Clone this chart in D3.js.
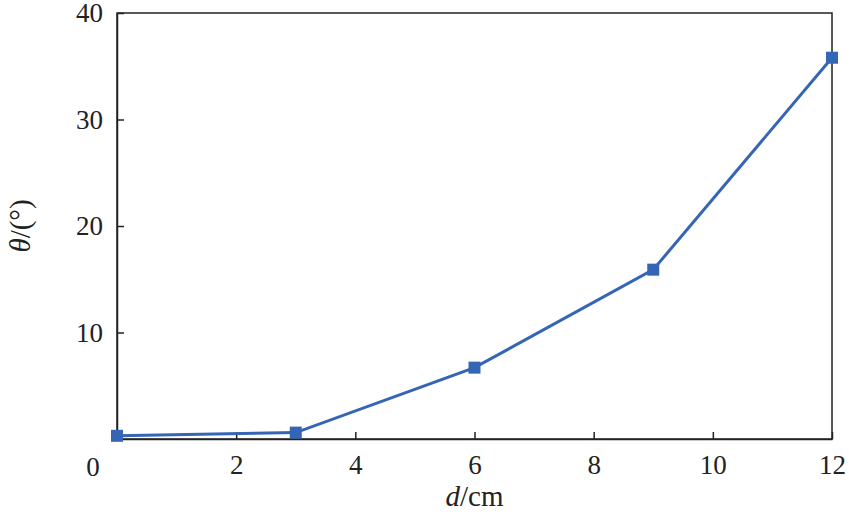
<!DOCTYPE html>
<html><head><meta charset="utf-8">
<script src="https://cdn.jsdelivr.net/npm/d3@7"></script>
<style>body{margin:0;background:#fff}svg text{font-family:"Times New Roman","Liberation Serif",Times,serif !important}</style>
</head><body><div id="vis"></div>
<script>
// data
const dVals = [0, 3, 6, 9, 12];
const thetaVals = [0.3, 0.6, 6.7, 15.9, 35.8];
const xTicks = [2, 4, 6, 8, 10, 12];
const yTicks = [10, 20, 30, 40];

const width = 849, height = 526;
const margin = { top: 13, right: 17, bottom: 87, left: 117 };

const svg = d3.select('#vis').append('svg')
    .attr('width', width).attr('height', height);

const x = d3.scaleLinear().domain([0, 12]).range([margin.left, width - margin.right]);
const y = d3.scaleLinear().domain([0, 40]).range([height - margin.bottom, margin.top]);

// frame
svg.append('rect')
    .attr('x', x(0)).attr('y', y(40))
    .attr('width', x(12) - x(0)).attr('height', y(0) - y(40))
    .attr('fill', 'none').attr('stroke', '#222').attr('stroke-width', 1.5);

const xAxis = svg.append('g')
    .attr('transform', `translate(0,${y(0)})`)
    .call(d3.axisBottom(x).tickValues(xTicks).tickSizeInner(-7).tickSizeOuter(0).tickPadding(16));
const yAxis = svg.append('g')
    .attr('transform', `translate(${x(0)},0)`)
    .call(d3.axisLeft(y).tickValues(yTicks).tickSizeInner(-7).tickSizeOuter(0).tickPadding(14));

[xAxis, yAxis].forEach(g => {
    g.attr('font-family', null);
    g.select('.domain').attr('stroke', '#222').attr('stroke-width', 1.5);
    g.selectAll('.tick line').attr('stroke', '#222').attr('stroke-width', 1.5);
    g.selectAll('.tick text').attr('font-size', 27).attr('fill', '#222');
});

// shared origin label
svg.append('text').attr('x', x(0) - 24).attr('y', y(0) + 37)
    .attr('text-anchor', 'middle').attr('font-size', 27).attr('fill', '#222').text('0');

// axis titles
svg.append('text').attr('x', (x(0) + x(12)) / 2).attr('y', 506)
    .attr('text-anchor', 'middle').attr('font-size', 29).attr('fill', '#222')
    .html('<tspan font-style="italic">d</tspan>/cm');
svg.append('text').attr('transform', `translate(30,${(y(0) + y(40)) / 2}) rotate(-90)`)
    .attr('text-anchor', 'middle').attr('font-size', 29).attr('fill', '#222')
    .html('<tspan font-style="italic">θ</tspan>/(°)');

const pts = dVals.map((d, i) => [d, thetaVals[i]]);
svg.append('path').datum(pts)
    .attr('fill', 'none').attr('stroke', '#3565b5').attr('stroke-width', 3)
    .attr('d', d3.line().x(d => x(d[0])).y(d => y(d[1])));
svg.selectAll('rect.pt').data(pts).join('rect').attr('class', 'pt')
    .attr('x', d => x(d[0]) - 6).attr('y', d => y(d[1]) - 6)
    .attr('width', 12).attr('height', 12).attr('fill', '#3565b5');
</script></body></html>
